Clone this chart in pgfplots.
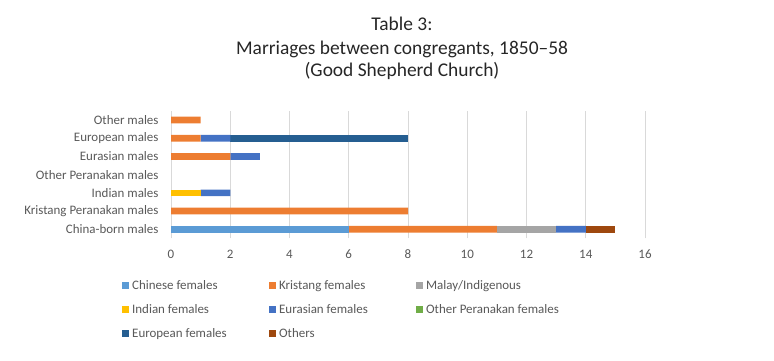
\documentclass[border=0pt]{standalone}
\usepackage{fontspec}
\setmainfont{Carlito}
\usepackage{pgfplots}
\pgfplotsset{compat=1.18}
\definecolor{cChinese}{HTML}{5B9BD5}
\definecolor{cKristang}{HTML}{ED7D31}
\definecolor{cMalay}{HTML}{A5A5A5}
\definecolor{cIndian}{HTML}{FFC000}
\definecolor{cEurasian}{HTML}{4472C4}
\definecolor{cOtherPer}{HTML}{70AD47}
\definecolor{cEuropean}{HTML}{255E91}
\definecolor{cOthers}{HTML}{9E480E}
\definecolor{gridgray}{HTML}{D9D9D9}
\definecolor{labelgray}{HTML}{595959}
\definecolor{titlegray}{HTML}{262626}
\begin{document}
\begin{tikzpicture}
\path[use as bounding box] (0bp,0bp) rectangle (774bp,361bp);
\begin{scope}[every node/.style={font=\fontsize{19.5}{23}\selectfont, text=titlegray, anchor=base, inner sep=0pt}]
\node at (402bp,330.3bp) {Table 3:};
\node at (402bp,306.7bp) {Marriages between congregants, 1850--58};
\node at (402bp,284bp) {(Good Shepherd Church)};
\end{scope}
\begin{axis}[
  at={(171bp,122.6bp)}, anchor=south west,
  scale only axis, width=474bp, height=127.5bp,
  xbar stacked, bar width=6.7bp,
  xmin=0, xmax=16, ymin=-0.5, ymax=6.5,
  xtick={0,2,...,16}, ytick={0,...,6},
  yticklabels={China-born males, Kristang Peranakan males, Indian males, Other Peranakan males, Eurasian males, European males, Other males},
  xmajorgrids, grid style={draw=gridgray, line width=0.75bp},
  axis line style={draw=none}, major tick length=0pt,
  tick label style={font=\fontsize{13}{15}\selectfont, text=labelgray},
  /pgf/number format/assume math mode=true,
  xticklabel style={yshift=-8bp},
  yticklabel style={xshift=-9bp},
  every axis plot/.append style={draw=none},
  legend columns=3,
  legend style={draw=none, at={(-0.1034,-0.312)}, anchor=north west,
    font=\fontsize{13}{15}\selectfont, text=labelgray, row sep=9.6bp,
    inner sep=0pt, cells={anchor=west}},
  legend image code/.code={\fill[#1] (0bp,-3.5bp) rectangle (7bp,3.5bp);},
]
\addplot[fill=cChinese] coordinates {(6,0) (0,1) (0,2) (0,3) (0,4) (0,5) (0,6)};
\addlegendentry{\makebox[136bp][l]{\hspace{1bp}Chinese females}}
\addplot[fill=cKristang] coordinates {(5,0) (8,1) (0,2) (0,3) (2,4) (1,5) (1,6)};
\addlegendentry{\makebox[136bp][l]{\hspace{1bp}Kristang females}}
\addplot[fill=cMalay] coordinates {(2,0) (0,1) (0,2) (0,3) (0,4) (0,5) (0,6)};
\addlegendentry{\hspace{1bp}Malay/Indigenous}
\addplot[fill=cIndian] coordinates {(0,0) (0,1) (1,2) (0,3) (0,4) (0,5) (0,6)};
\addlegendentry{\makebox[136bp][l]{\hspace{1bp}Indian females}}
\addplot[fill=cEurasian] coordinates {(1,0) (0,1) (1,2) (0,3) (1,4) (1,5) (0,6)};
\addlegendentry{\makebox[136bp][l]{\hspace{1bp}Eurasian females}}
\addplot[fill=cOtherPer] coordinates {(0,0) (0,1) (0,2) (0,3) (0,4) (0,5) (0,6)};
\addlegendentry{\hspace{1bp}Other Peranakan females}
\addplot[fill=cEuropean] coordinates {(0,0) (0,1) (0,2) (0,3) (0,4) (6,5) (0,6)};
\addlegendentry{\makebox[136bp][l]{\hspace{1bp}European females}}
\addplot[fill=cOthers] coordinates {(1,0) (0,1) (0,2) (0,3) (0,4) (0,5) (0,6)};
\addlegendentry{\hspace{1bp}Others}
\end{axis}
\end{tikzpicture}
\end{document}
